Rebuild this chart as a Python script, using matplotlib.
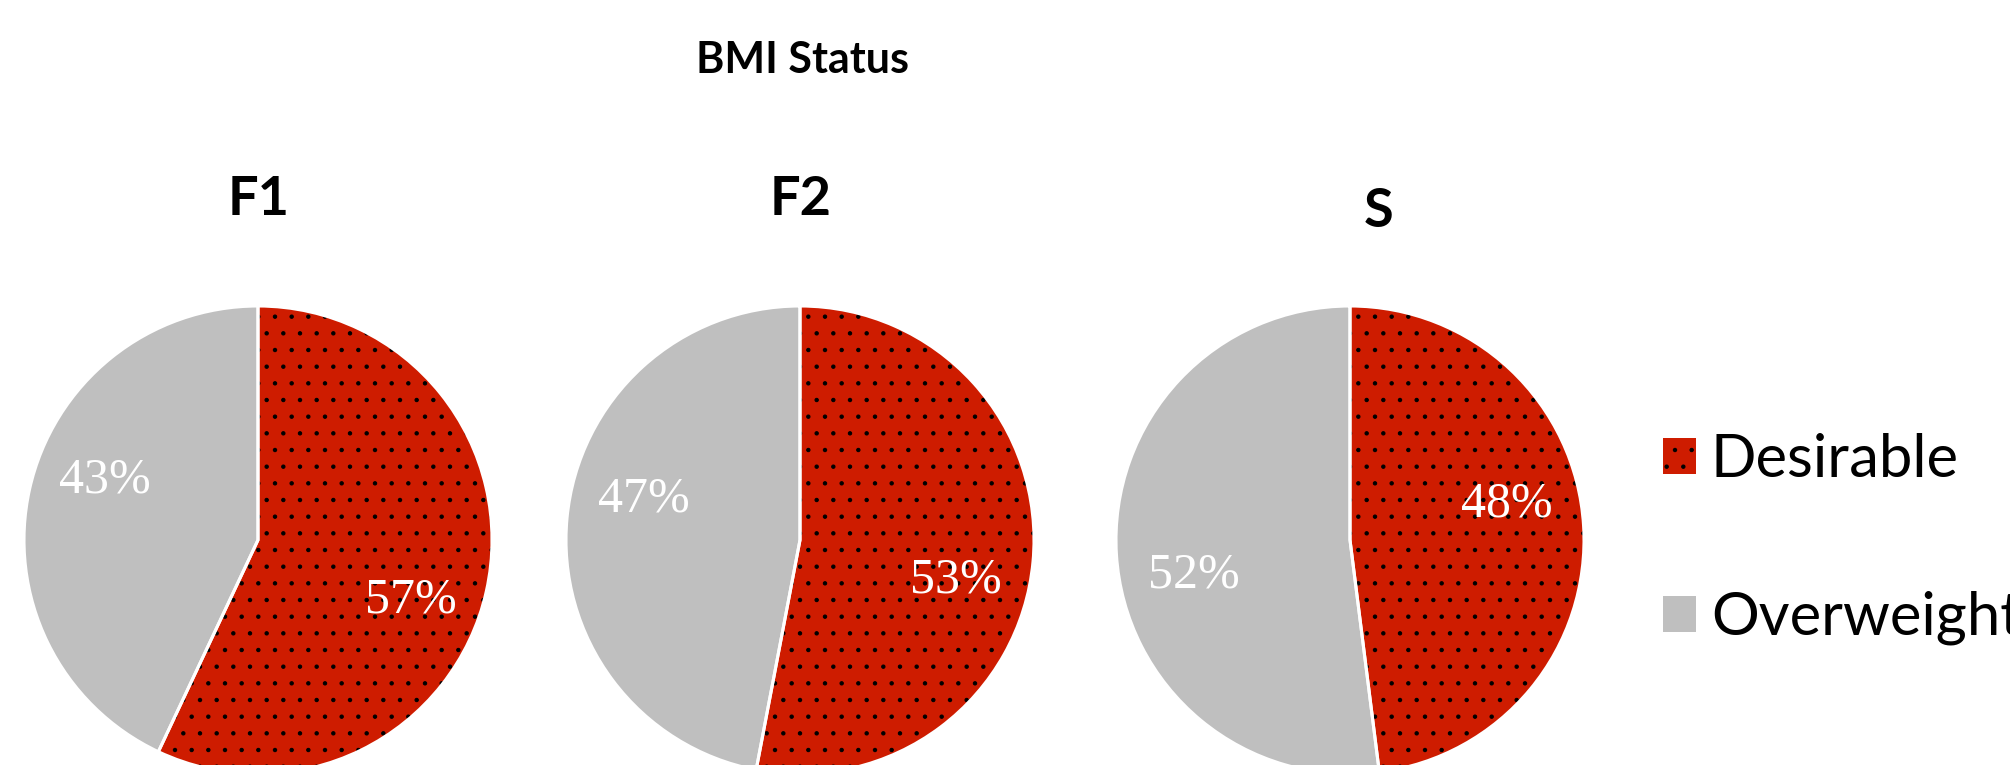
import matplotlib
matplotlib.use('Agg')
import matplotlib.pyplot as plt
import numpy as np

# ---- data ----
groups = ['F1', 'F2', 'S']
categories = ['Desirable', 'Overweight']
desirable = [57, 53, 48]
overweight = [43, 47, 52]
title = 'BMI Status'

colors = ['#CE1C00', '#BFBFBF']

W, H = 2010, 765
plt.rcParams['hatch.linewidth'] = 0.75
fig = plt.figure(figsize=(W / 100, H / 100), dpi=100)

centers_px = [(258, 540), (800, 540), (1350, 540)]
R = 234
L = 1.03
title_pos = [(259, 215), (801, 215), (1379, 227)]

handles = None
for i, g in enumerate(groups):
    cx, cy = centers_px[i]
    half = R * L
    ax = fig.add_axes([(cx - half) / W, (H - cy - half) / H, 2 * half / W, 2 * half / H])
    vals = [desirable[i], overweight[i]]
    wedges, texts, autotexts = ax.pie(
        vals, colors=colors, startangle=90, counterclock=False,
        autopct='%.0f%%', pctdistance=0.67,
        wedgeprops=dict(edgecolor='black', linewidth=0),
        textprops=dict(color='white', fontsize=36, family='Liberation Serif'))
    wedges[0].set_hatch('.')
    wedges[1].set_hatch('')
    # white outlines drawn on top
    ax.pie(vals, colors=['none', 'none'], startangle=90, counterclock=False,
           wedgeprops=dict(edgecolor='white', linewidth=2.2, facecolor='none'))
    for t in autotexts:
        x, y = t.get_position()
        t.set_position((x, y + np.sign(y) * 0.11))
        t.set_zorder(5)
    ax.set_xlim(-L, L)
    ax.set_ylim(-L, L)
    ax.set_aspect('equal')
    ax.axis('off')
    if handles is None:
        handles = wedges
    tx, ty = title_pos[i]
    fig.text(tx / W, (H - ty) / H, g, ha='center', va='baseline',
             fontsize=39, fontweight='bold', family='Lato')

fig.text(802 / W, (H - 73) / H, title, ha='center', va='baseline',
         fontsize=31, fontweight='bold', family='Lato')

leg = fig.legend(handles, categories, loc='center left',
                 bbox_to_anchor=(1663 / W, (H - 539) / H),
                 frameon=False, borderpad=0, borderaxespad=0,
                 handlelength=0.553, handleheight=0.553, handletextpad=0.25,
                 labelspacing=1.74, prop=dict(family='Lato', size=43))

fig.savefig('out.png', dpi=100)
